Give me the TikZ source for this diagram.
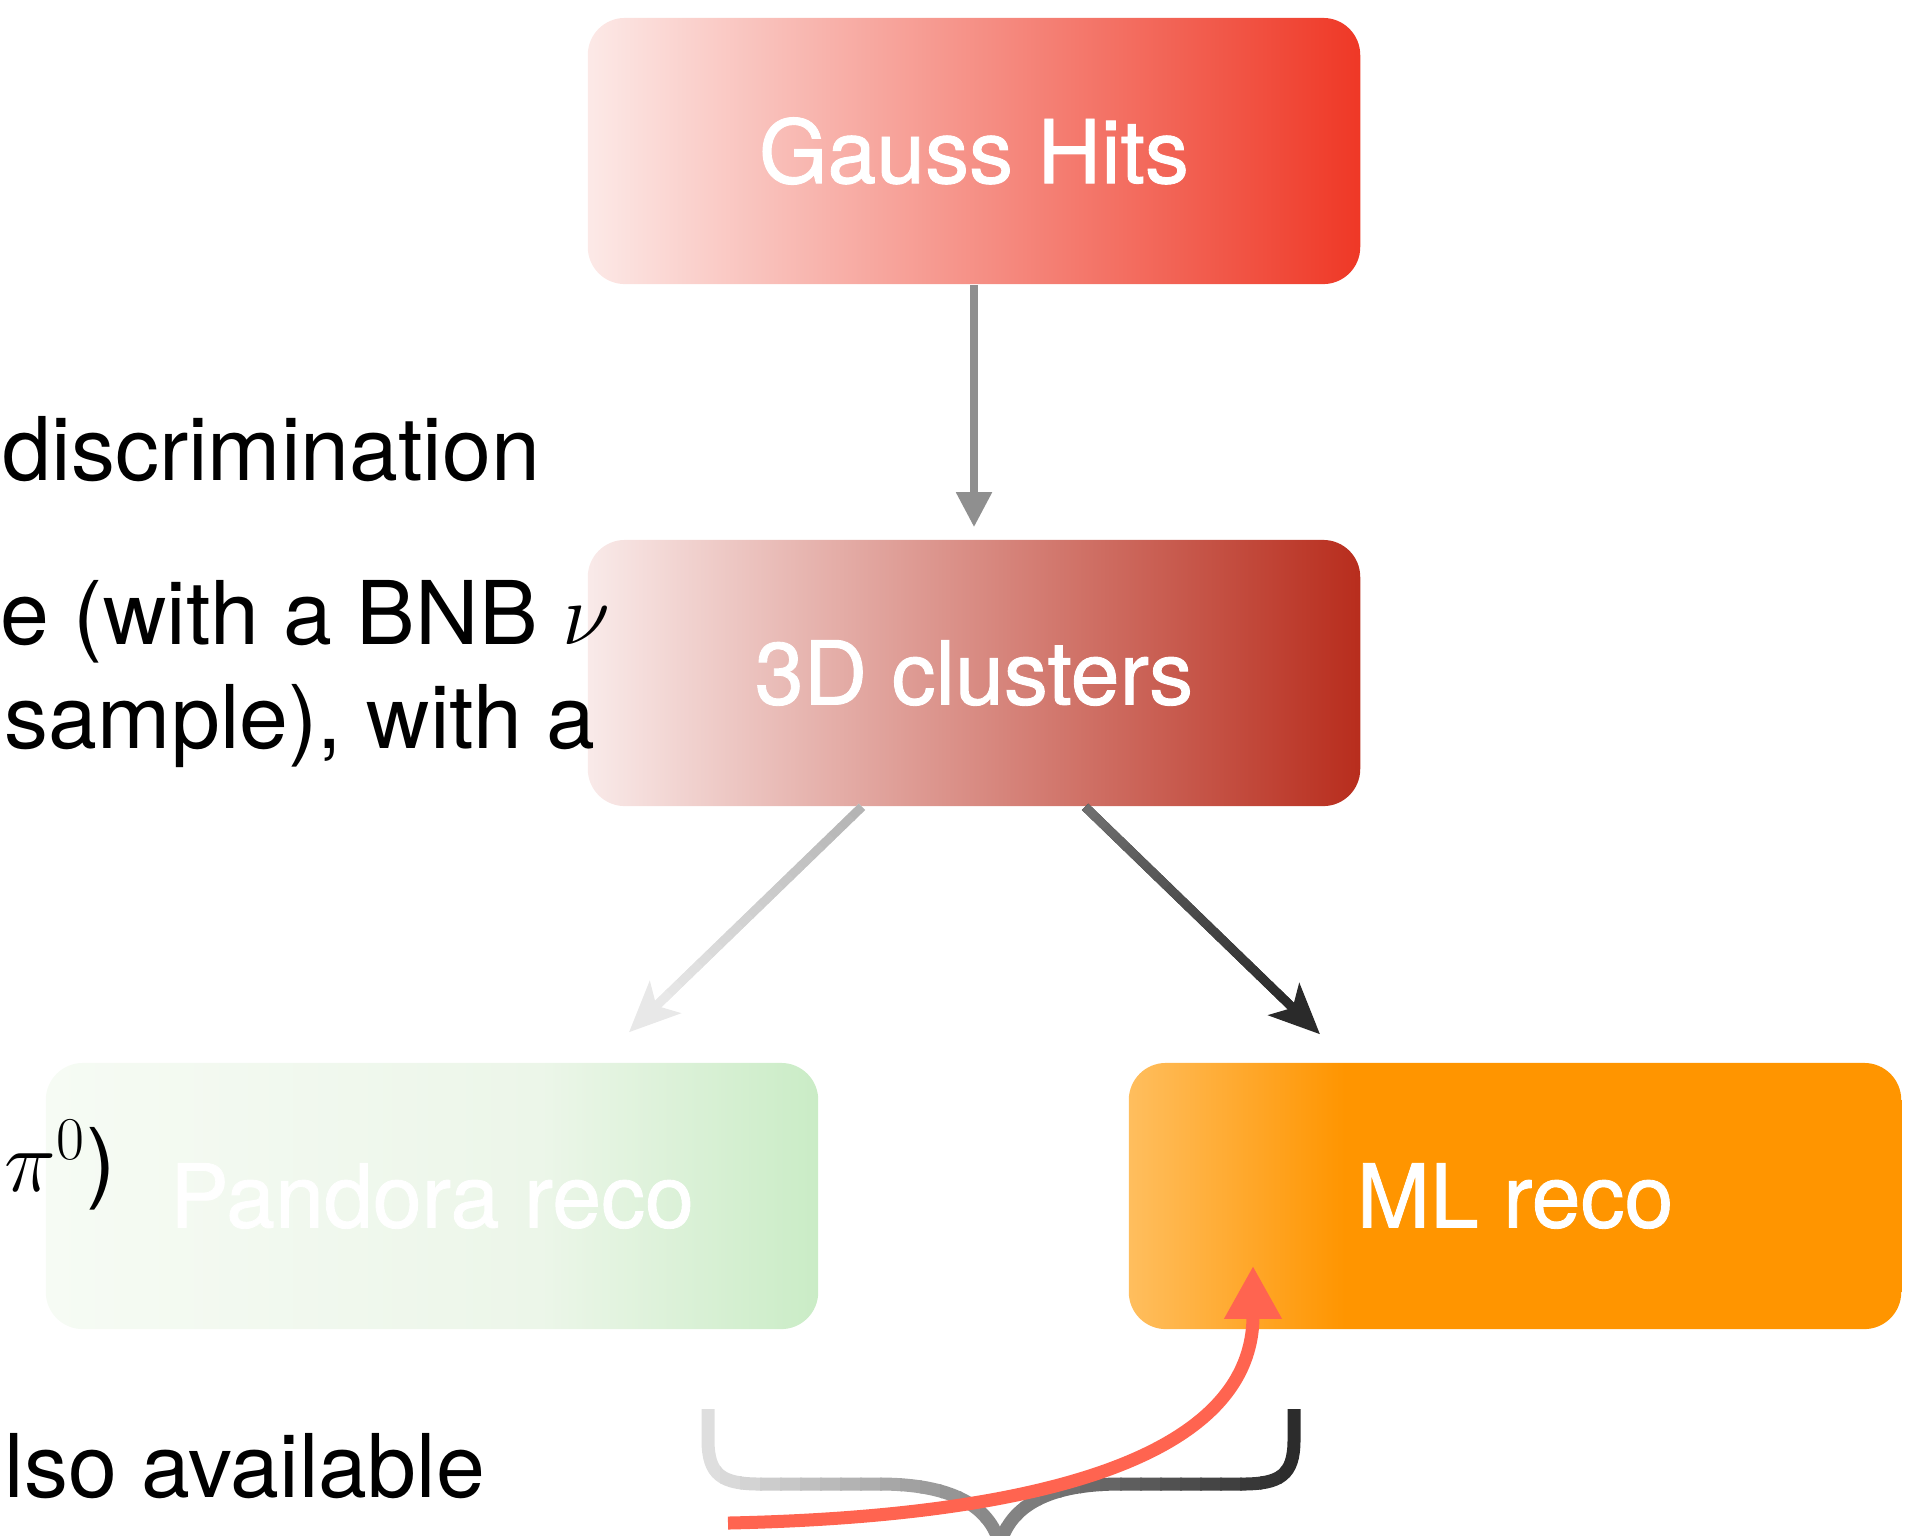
\documentclass[tikz,border=0pt]{standalone}
\usepackage[no-math]{fontspec}
\setmainfont{TeX Gyre Heros}
\newfontfamily\boxfont[FakeBold=1]{TeX Gyre Heros}
\usetikzlibrary{positioning,arrows.meta,calc}

\definecolor{gaussL}{RGB}{252,233,231}
\definecolor{gaussM}{RGB}{246,162,152}
\definecolor{gaussR}{RGB}{239,56,38}
\definecolor{clustL}{RGB}{249,234,233}
\definecolor{clustM}{RGB}{221,150,143}
\definecolor{clustR}{RGB}{184,45,29}
\definecolor{pandL}{RGB}{246,251,244}
\definecolor{pandM}{RGB}{236,246,233}
\definecolor{pandR}{RGB}{202,236,198}
\definecolor{mlLight}{RGB}{255,190,94}
\definecolor{mlOrange}{RGB}{255,149,0}
\definecolor{vGray}{RGB}{143,143,143}
\definecolor{pBeg}{RGB}{180,180,180}
\definecolor{pEnd}{RGB}{232,232,232}
\definecolor{mBeg}{RGB}{110,110,110}
\definecolor{mEnd}{RGB}{42,42,42}
\definecolor{braceL}{RGB}{222,222,222}
\definecolor{braceR}{RGB}{44,44,44}
\definecolor{redArrow}{RGB}{255,100,80}

\pgfdeclarehorizontalshading{mlfade}{100bp}{color(0bp)=(mlLight); color(25bp)=(mlLight); color(39bp)=(mlOrange); color(100bp)=(mlOrange)}
\pgfdeclarehorizontalshading{pandfade}{100bp}{color(0bp)=(pandL); color(25bp)=(pandL); color(57bp)=(pandM); color(75bp)=(pandR); color(100bp)=(pandR)}

\tikzset{
     box/.style={minimum width=7.72cm, minimum height=2.66cm, inner sep=0pt,
                 rounded corners=0.37cm, text=white, font=\boxfont\fontsize{25}{30}\selectfont},
     txt/.style={inner sep=0pt, anchor=base west, font=\fontsize{25}{30}\selectfont},
     arrow/.style={-{Triangle[length=0.35cm,width=0.34cm]}, line width=0.08cm},
     slant/.style={-{Stealth[length=0.5cm,width=0.44cm,inset=0.12cm]}, line width=0.09cm},
     seg/.style={line width=0.09cm},
     brace/.style={line width=0.13cm},
     redarrow/.style={-{Triangle[length=0.53cm,width=0.54cm]}, line width=0.13cm, redArrow}
     }

\begin{document}
\begin{tikzpicture}[x=0.01cm,y=-0.01cm]
    \useasboundingbox (0,0) rectangle (1916,1535);
    \clip (0,0) rectangle (1916,1535);
    % Place nodes
    \node[box, left color=gaussL, middle color=gaussM, right color=gaussR] (gauss) at (974,151) {Gauss Hits};
    \node[box, left color=clustL, middle color=clustM, right color=clustR] (clusters) at (974,673) {3D clusters};
    \node[box, shading=pandfade] (pandora) at (432,1196) {Pandora reco};
    \node[box, shading=mlfade] (mlreco) at (1515,1196) {ML reco};
    % Text on the left
    \node[txt] (discr) at (2,480) {discrimination};
    \node[txt] (bnb) at (0,644) {e (with a BNB $\nu$};
    \node[txt] (sample) at (4,748) {sample), with a};
    \node[txt] (pizero) at (4,1191) {$\pi^0$)};
    \node[txt] (avail) at (4,1497) {lso available};
    % Draw edges
    \draw[arrow, vGray, shorten >=0.12cm] (gauss) -- (clusters);
    \coordinate (pStart) at ([xshift=-1.12cm]clusters.south);
    \coordinate (pTip) at ([shift={(197,-30)}]pandora.north);
    \coordinate (pBack) at ($(pTip)!0.42cm!(pStart)$);
    \coordinate (mStart) at ([xshift=1.11cm]clusters.south);
    \coordinate (mTip) at ([shift={(-195,-28)}]mlreco.north);
    \coordinate (mBack) at ($(mTip)!0.42cm!(mStart)$);
    \draw[slant, pEnd] (pStart) -- (pTip);
    \draw[slant, mEnd] (mStart) -- (mTip);
    \foreach \k in {0,...,19}{
        \pgfmathtruncatemacro\p{100*\k/19}
        \draw[seg, color=pEnd!\p!pBeg] ($(pStart)!\k/20!(pBack)$) -- ($(pStart)!{(\k+1.1)/20}!(pBack)$);
        \draw[seg, color=mEnd!\p!mBeg] ($(mStart)!\k/20!(mBack)$) -- ($(mStart)!{(\k+1.1)/20}!(mBack)$);
    }
    % Brace
    \foreach \k in {0,...,29}{
        \pgfmathtruncatemacro\p{100*\k/29}
        \begin{scope}
            \clip (700+20*\k,1400) rectangle (722+20*\k,1545);
            \draw[brace, color=braceR!\p!braceL] (708,1409) -- (708,1440)
                .. controls (708,1475) and (722,1484) .. (760,1484) -- (880,1484)
                .. controls (950,1484) and (990,1505) .. (1000,1545)
                .. controls (1010,1505) and (1050,1484) .. (1120,1484) -- (1242,1484)
                .. controls (1280,1484) and (1294,1475) .. (1294,1440) -- (1294,1409);
        \end{scope}
    }
    \coordinate (redStart) at (728,1523);
    \coordinate (redTip) at ([shift={(-262,-64)}]mlreco.south);
    \draw[redarrow] (redStart) .. controls (1060,1516) and (1253,1450) .. (redTip);
\end{tikzpicture}
\end{document}
